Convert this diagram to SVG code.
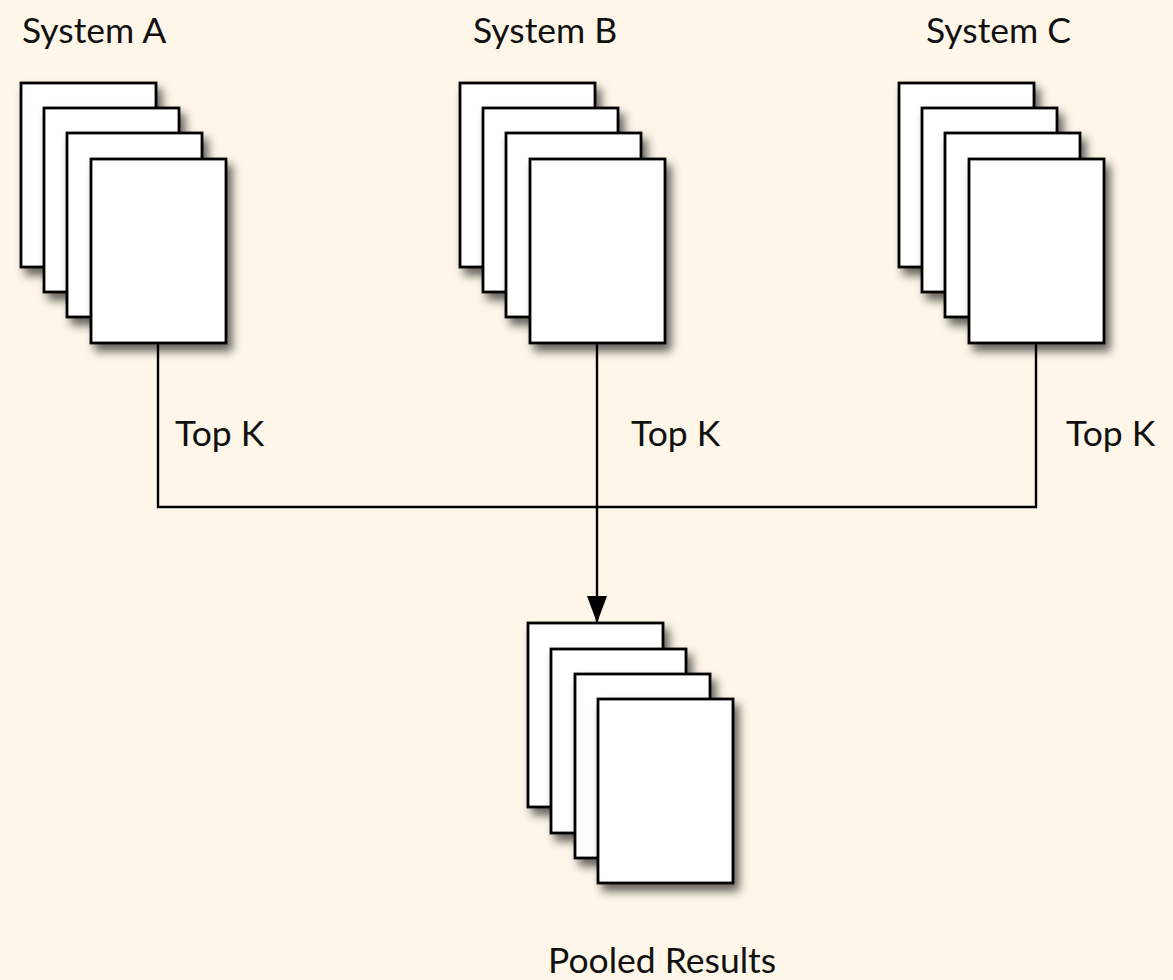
<svg xmlns="http://www.w3.org/2000/svg" width="1173" height="980" viewBox="0 0 1173 980">
<defs>
<filter id="sh" x="-20%" y="-20%" width="150%" height="150%">
<feDropShadow dx="5" dy="7" stdDeviation="5" flood-color="#000" flood-opacity="0.6"/>
</filter>
<marker id="arr" markerWidth="27" markerHeight="20" refX="27" refY="10" orient="auto" markerUnits="userSpaceOnUse" viewBox="0 0 27 20">
<path d="M0,0 L27,10 L0,20 Z" fill="#000"/>
</marker>
<g id="page"><rect width="135" height="184" fill="#fff" stroke="#000" stroke-width="2.8" filter="url(#sh)"/></g>
</defs>
<style>
text{font-family:Lato,"Open Sans","Liberation Sans",sans-serif;font-size:35.5px;fill:#111}
.ln{fill:none;stroke:#000;stroke-width:2.4}
</style>
<rect width="1173" height="980" fill="#FEF6E9"/>
<g id="connectors">
<path class="ln" d="M158,342 V507 H1036 V342"/>
<path class="ln" d="M597,342 V623" marker-end="url(#arr)"/>
</g>
<g id="systemA">
<text x="22" y="43">System A</text>
<use href="#page" x="21" y="83"/><use href="#page" x="44" y="108"/><use href="#page" x="67" y="133"/><use href="#page" x="91" y="159"/>
</g>
<g id="systemB">
<text x="473" y="43">System B</text>
<use href="#page" x="460" y="83"/><use href="#page" x="483" y="108"/><use href="#page" x="506" y="133"/><use href="#page" x="530" y="159"/>
</g>
<g id="systemC">
<text x="926" y="43">System C</text>
<use href="#page" x="899" y="83"/><use href="#page" x="922" y="108"/><use href="#page" x="945" y="133"/><use href="#page" x="969" y="159"/>
</g>
<g id="labels">
<text x="175" y="446">Top K</text>
<text x="631" y="446">Top K</text>
<text x="1066" y="446">Top K</text>
</g>
<g id="pooled">
<use href="#page" x="528" y="623"/><use href="#page" x="551" y="649"/><use href="#page" x="575" y="674"/><use href="#page" x="598" y="699"/>
<text x="548" y="973">Pooled Results</text>
</g>
</svg>
